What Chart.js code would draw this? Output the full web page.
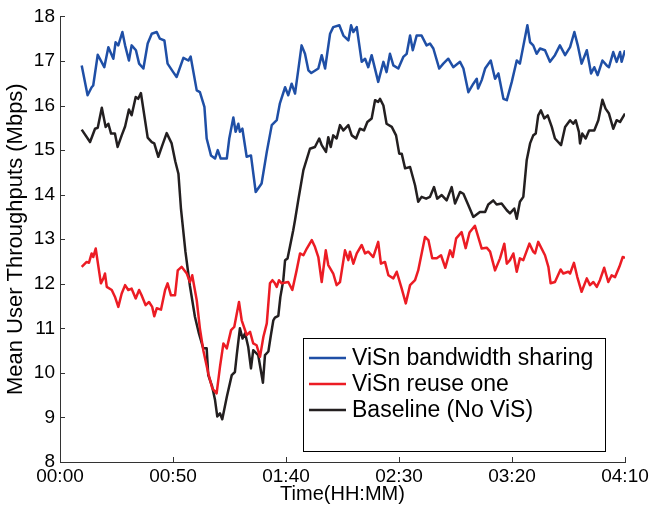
<!DOCTYPE html>
<html>
<head>
<meta charset="utf-8">
<script src="https://cdn.jsdelivr.net/npm/chart.js@4"></script>
<style>
  body { margin: 0; background: #fff; }
  canvas { display: block; }
</style>
</head>
<body>
<canvas id="myChart" width="652" height="508"></canvas>
<script>
// minutes since 00:00, values in Mbps
const blueT = [9.6,12.2,14.0,14.7,16.7,19.6,21.4,23.6,24.6,25.8,27.6,28.8,30.5,31.7,33.6,35.0,36.9,38.8,40.6,42.8,44.2,46.2,47.6,50.1,51.6,54.6,56.8,57.8,60.5,61.9,63.9,64.9,66.8,68.6,69.8,71.1,73.8,74.9,76.7,77.7,78.9,79.6,80.7,82.6,84.5,86.6,89.2,91.5,93.7,95.9,97.3,99.6,101.0,102.5,104.0,105.4,106.9,108.4,109.9,111.2,114.3,115.8,117.3,119.5,120.9,123.6,125.4,127.6,128.8,129.8,131.3,133.5,135.0,136.4,137.9,140.8,143.1,144.5,146.0,147.5,149.7,151.9,153.4,154.9,156.1,157.8,160.0,162.2,163.7,165.2,167.8,169.6,171.8,174.0,177.0,178.5,180.7,182.9,184.4,185.0,186.6,188.1,190.6,192.5,194.0,196.2,197.7,199.9,202.1,203.5,206.8,208.0,209.4,210.9,212.4,214.6,216.8,219.0,221.2,223.5,225.7,227.6,229.1,230.8,233.1,235.0,236.4,237.9,240.0,241.9,242.9,244.8,246.3,247.8,248.5,250.0];
const blueV = [16.90,16.23,16.41,16.45,17.14,16.86,17.31,17.05,17.42,17.35,17.65,17.35,17.01,17.35,17.24,16.94,16.83,17.39,17.61,17.65,17.50,17.46,16.94,16.75,16.64,17.07,17.01,17.10,16.34,16.30,15.97,15.26,14.88,14.81,15.00,14.81,14.81,15.26,15.73,15.41,15.59,15.41,15.48,14.85,14.88,14.06,14.25,14.96,15.56,15.67,16.05,16.41,16.23,16.49,16.27,16.79,17.35,17.16,16.79,16.73,16.83,17.13,16.83,17.61,17.76,17.80,17.57,17.46,17.80,17.65,17.76,16.98,17.05,16.86,17.13,16.53,16.98,16.75,17.16,16.90,16.83,17.09,17.16,17.57,17.24,17.57,17.57,17.35,17.39,17.28,16.83,16.94,17.05,16.86,16.98,16.83,16.30,16.49,16.60,16.38,16.57,16.83,17.01,16.60,16.72,16.15,16.12,16.53,17.01,16.94,17.80,17.42,17.35,17.16,17.28,17.24,16.98,17.13,17.35,17.13,17.31,17.65,17.35,16.94,17.24,16.72,16.86,16.68,17.01,16.90,16.86,17.20,16.98,17.20,16.98,17.24];

const redT = [9.6,11.8,12.8,14.0,14.7,15.8,18.1,19.2,19.9,20.7,22.9,24.3,25.8,27.3,28.8,30.2,31.7,33.5,35.0,36.1,37.9,39.4,40.8,41.7,42.8,44.7,46.5,47.6,49.1,50.9,52.1,53.8,56.1,57.5,58.5,60.5,61.9,63.4,65.6,67.4,69.3,70.8,72.3,73.8,75.7,77.1,79.2,80.4,82.6,84.1,85.5,87.0,88.5,90.0,91.5,92.9,94.0,95.1,95.9,96.9,98.1,101.0,102.8,104.7,106.2,107.7,109.2,111.4,112.8,114.3,115.8,117.6,118.7,120.9,122.4,123.9,126.1,127.6,128.3,129.8,131.3,133.5,135.0,136.4,138.6,140.8,142.0,143.8,145.3,147.5,149.0,151.2,153.0,154.9,157.1,158.5,161.5,163.0,164.7,166.7,168.6,170.5,172.6,173.8,175.3,177.7,179.5,181.2,183.6,186.6,188.8,190.3,192.5,194.7,196.6,197.7,199.1,200.6,202.1,203.5,205.0,207.7,209.4,210.2,211.6,214.6,216.1,217.1,219.0,221.5,222.7,224.9,225.7,227.4,228.9,230.8,233.1,234.5,236.0,237.5,238.9,240.8,242.6,244.1,245.6,247.5,249.0,250.0];
const redV = [12.38,12.49,12.47,12.68,12.60,12.79,12.01,12.12,12.23,11.93,11.86,11.71,11.48,11.78,11.97,11.86,11.89,11.67,11.86,11.74,11.52,11.59,11.48,11.27,11.45,11.42,11.86,12.01,11.74,11.74,12.30,12.38,12.23,12.04,12.19,11.63,11.00,10.51,9.99,9.65,9.54,10.14,10.66,10.55,10.96,11.03,11.59,11.18,10.85,10.92,10.66,10.62,10.36,10.81,11.11,12.01,12.08,12.01,11.93,12.08,12.01,12.04,11.86,12.30,12.68,12.64,12.79,12.98,12.83,12.60,12.04,12.75,12.42,12.23,11.97,12.04,12.75,12.53,12.72,12.45,12.68,12.87,12.68,12.72,12.60,12.94,12.45,12.49,12.19,12.12,12.27,11.89,11.56,11.97,12.08,12.30,13.05,12.98,12.57,12.57,12.64,12.36,12.75,12.60,13.02,13.16,12.80,13.15,13.30,12.79,12.81,12.72,12.30,12.57,12.90,12.45,12.53,12.68,12.27,12.57,12.53,12.90,12.72,12.68,12.94,12.64,12.38,12.01,12.04,12.32,12.23,12.27,12.23,12.47,12.15,11.82,12.12,11.97,12.04,11.93,12.08,12.36,12.04,12.19,12.15,12.38,12.60,12.58];

const blackT = [9.6,13.3,15.5,16.7,18.5,20.2,21.4,22.6,24.3,25.5,27.3,28.8,30.5,31.7,33.5,34.6,35.8,38.8,40.6,41.7,43.5,45.3,47.2,49.4,51.0,52.4,53.5,55.5,57.5,59.7,61.5,63.4,64.9,65.6,67.3,68.6,69.6,70.8,71.8,73.8,76.0,77.4,78.2,79.6,80.8,81.9,83.3,84.5,85.5,87.7,89.8,90.7,92.2,93.2,94.4,95.1,96.6,97.5,98.8,99.6,100.7,101.8,103.2,104.0,105.4,107.7,110.6,112.8,114.7,115.8,117.7,118.7,119.8,120.9,122.4,123.9,125.4,127.6,129.1,131.0,132.7,134.5,136.0,137.9,139.4,140.8,141.6,143.1,144.5,146.8,148.7,150.1,151.2,152.7,154.9,157.1,158.5,160.0,162.0,163.7,165.5,166.9,168.9,171.1,173.3,174.8,177.0,178.5,180.7,182.9,185.8,188.1,189.5,191.7,193.2,195.4,197.7,199.1,201.0,202.1,203.5,205.0,206.5,208.0,209.4,210.5,211.6,212.8,214.3,215.8,217.6,219.0,221.7,223.5,225.7,227.1,228.2,229.6,230.1,231.1,232.6,234.1,236.4,238.2,240.0,241.4,242.9,244.8,246.3,247.8,250.0];
const blackV = [15.46,15.18,15.48,15.50,15.95,15.52,15.59,15.37,15.37,15.07,15.33,15.53,15.91,15.78,16.19,16.15,16.28,15.28,15.18,15.15,14.85,15.11,15.38,15.15,14.75,14.47,13.70,12.72,11.95,11.26,10.88,10.55,10.55,9.95,9.70,9.39,9.02,9.09,8.96,9.46,9.95,10.02,10.40,11.00,10.77,10.89,10.58,10.10,10.51,10.40,9.78,10.40,10.48,10.81,11.18,11.24,11.28,11.70,12.08,12.53,12.57,12.85,13.20,13.43,13.87,14.55,15.03,15.07,15.26,15.11,14.96,15.29,15.07,15.33,15.26,15.56,15.44,15.56,15.33,15.26,15.48,15.44,15.63,15.71,16.12,16.08,16.15,16.00,15.59,15.52,15.33,14.92,14.92,14.59,14.62,14.21,13.84,13.95,13.91,13.95,14.17,13.91,13.99,13.87,14.17,13.80,14.06,14.02,13.76,13.50,13.61,13.61,13.78,13.87,13.78,13.80,13.65,13.58,13.69,13.46,13.84,13.95,14.77,15.15,15.33,15.37,15.78,15.89,15.71,15.78,15.52,15.26,15.11,15.52,15.67,15.59,15.67,15.41,15.15,15.37,15.26,15.44,15.44,15.67,16.13,15.93,15.82,15.48,15.67,15.63,15.82];

const seriesNames = ["ViSn bandwidth sharing", "ViSn reuse one", "Baseline (No ViS)"];
const xTickStep = 50;
const yMin = 8, yMax = 18;

const FONT = "'Liberation Sans', Arial, sans-serif";

function pts(t, v) {
  return t.map((x, i) => ({x: x, y: v[i]}));
}

function hhmm(v) {
  const h = Math.floor(v / 60), m = v % 60;
  return String(h).padStart(2, "0") + ":" + String(m).padStart(2, "0");
}

// matlab style inward ticks + legend box inside the plot
const matlabBits = {
  id: "matlabBits",
  afterDraw(chart) {
    const ctx = chart.ctx;
    const xs = chart.scales.x, ys = chart.scales.y;
    const area = chart.chartArea;
    ctx.save();
    ctx.strokeStyle = "#333";
    ctx.lineWidth = 1;
    ctx.beginPath();
    xs.ticks.forEach(t => {
      const px = Math.round(xs.getPixelForValue(t.value)) + 0.5;
      ctx.moveTo(px, area.bottom);
      ctx.lineTo(px, area.bottom - 5);
    });
    ys.ticks.forEach(t => {
      const py = Math.round(ys.getPixelForValue(t.value)) + 0.5;
      ctx.moveTo(area.left, py);
      ctx.lineTo(area.left + 5, py);
    });
    ctx.stroke();

    // legend
    const bx = 303.5, by = 338.5, bw = 302, bh = 113;
    ctx.fillStyle = "#fff";
    ctx.fillRect(bx, by, bw, bh);
    ctx.strokeStyle = "#000";
    ctx.strokeRect(bx, by, bw, bh);
    ctx.font = "23px " + FONT;
    ctx.textBaseline = "middle";
    chart.data.datasets.forEach((ds, i) => {
      const y = 358 + i * 26;
      ctx.strokeStyle = ds.borderColor;
      ctx.lineWidth = 2.5;
      ctx.beginPath();
      ctx.moveTo(309, y);
      ctx.lineTo(346, y);
      ctx.stroke();
      ctx.fillStyle = "#000";
      ctx.fillText(ds.label, 352, y + 1);
    });
    ctx.restore();
  }
};

const ctx = document.getElementById("myChart").getContext("2d");
const myChart = new Chart(ctx, {
  type: "line",
  data: {
    datasets: [
      {
        label: seriesNames[0],
        data: pts(blueT, blueV),
        borderColor: "#1f4fa6",
      },
      {
        label: seriesNames[1],
        data: pts(redT, redV),
        borderColor: "#ec1c24",
      },
      {
        label: seriesNames[2],
        data: pts(blackT, blackV),
        borderColor: "#231f20",
      },
    ],
  },
  options: {
    responsive: false,
    animation: false,
    layout: { padding: { top: 16, right: 27, left: 0, bottom: 0 } },
    elements: {
      line: { borderWidth: 2.5, tension: 0, borderJoinStyle: "round", fill: false },
      point: { radius: 0 },
    },
    plugins: {
      legend: { display: false },
      tooltip: { enabled: false },
    },
    scales: {
      x: {
        type: "linear",
        min: 0,
        max: 250,
        afterFit: s => { s.height = 46; },
        grid: { display: true, drawOnChartArea: false, drawTicks: false },
        border: { color: "#333", width: 1 },
        ticks: {
          stepSize: xTickStep,
          autoSkip: false,
          maxRotation: 0,
          padding: 3,
          color: "#000",
          font: { family: FONT, size: 19 },
          callback: v => hhmm(v),
        },
        title: {
          display: true,
          text: "Time(HH:MM)",
          color: "#000",
          font: { family: FONT, size: 20 },
          padding: { top: 0, bottom: 2 },
        },
      },
      y: {
        min: yMin,
        max: yMax,
        afterFit: s => { s.width = 60; },
        grid: { display: true, drawOnChartArea: false, drawTicks: false },
        border: { color: "#333", width: 1 },
        ticks: {
          stepSize: 1,
          padding: 5,
          color: "#000",
          font: { family: FONT, size: 19 },
        },
        title: {
          display: true,
          text: "Mean User Throughputs (Mbps)",
          color: "#000",
          font: { family: FONT, size: 22 },
          padding: { top: 3, bottom: 0 },
        },
      },
    },
  },
  plugins: [matlabBits],
});
</script>
</body>
</html>
